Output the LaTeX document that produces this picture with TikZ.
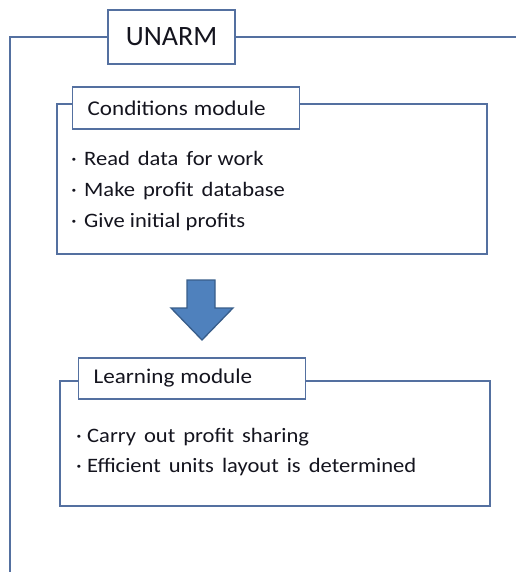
\documentclass[tikz,border=0pt]{standalone}
\usepackage{fontspec}
\setmainfont{Carlito}
\newfontfamily\bodyfont[FakeStretch=1.1]{Carlito}
\definecolor{lineblue}{RGB}{84,112,160}
\definecolor{arrowfill}{RGB}{79,129,189}
\definecolor{arrowedge}{RGB}{56,93,138}
\definecolor{txt}{RGB}{20,20,30}
\tikzset{
  frameline/.style={draw=lineblue, line width=1.3pt},
  modbox/.style={draw=lineblue, line width=1.3pt, fill=white, inner sep=0pt},
  titlebox/.style={draw=lineblue, line width=1.3pt, fill=white, anchor=west, text=txt,
    inner xsep=15pt, inner ysep=0pt, align=left, font=\bodyfont\fontsize{21}{24}\selectfont},
  item/.style={anchor=base west, inner sep=0pt, text=txt, font=\bodyfont\fontsize{20.5}{24}\selectfont},
}
\newcommand{\bul}{\makebox[13pt][l]{·}}
\newcommand{\ws}{\hspace{8pt}}
\begin{document}
\begin{tikzpicture}[x=1pt,y=-1pt]
\useasboundingbox (0,0) rectangle (516,572);
% outer frame
\node[draw=lineblue, line width=1.3pt, fill=white, minimum width=127pt, minimum height=54pt,
      inner sep=0pt, text=txt, font=\fontsize{28}{30}\selectfont] (unarm) at (171.5,37) {UNARM};
\coordinate (fcorner) at (10,37);
\coordinate (fbottom) at (10,572);
\coordinate (fright) at (516,37);
\draw[frameline] (unarm.west) -- (fcorner) -- (fbottom);
\draw[frameline] (unarm.east) -- (fright);
% conditions module
\node[modbox, minimum width=430pt, minimum height=150pt] (cond) at (272,179) {};
\node[titlebox, minimum width=227pt, minimum height=42pt, text width=197pt] (condt) at (72,108) {Conditions\hspace{6pt}module};
\node[item] (c1) at (71,165) {\bul Read\ws data\ws for work};
\node[item] (c2) at (71,196) {\bul Make\ws profit\ws database};
\node[item] (c3) at (71,227) {\bul Give initial profits};
% arrow
\draw[fill=arrowfill, draw=arrowedge, line width=1.3pt, line join=miter]
  (187,280) -- (215,280) -- (215,308) -- (233,308) -- (202,340) -- (171,308) -- (187,308) -- cycle;
% learning module
\node[modbox, minimum width=430pt, minimum height=125pt] (learn) at (275,443.5) {};
\node[titlebox, minimum width=227pt, minimum height=41pt, text width=197pt] (learnt) at (78,378.5) {Learning\hspace{6pt}module};
\node[item] (l1) at (76,442) {\makebox[11pt][l]{·}Carry\ws out\ws profit\ws sharing};
\node[item] (l2) at (76,472) {\makebox[11pt][l]{·}Efficient\ws units\ws layout\ws is\ws determined};
\end{tikzpicture}
\end{document}
